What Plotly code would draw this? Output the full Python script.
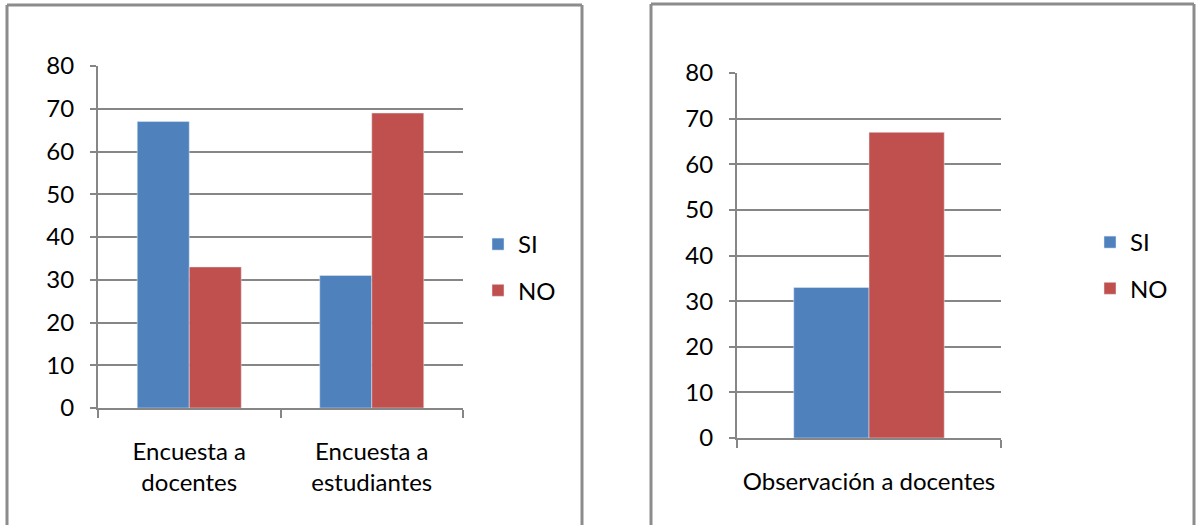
import plotly.graph_objects as go

W, H = 1197, 525

# left chart: encuestas
categorias_enc = ["Encuesta a<br>docentes", "Encuesta a<br>estudiantes"]
si_enc = [67, 31]
no_enc = [33, 69]

# right chart: observacion
categorias_obs = ["Observación a docentes"]
si_obs = [33]
no_obs = [67]

y_ticks = [0, 10, 20, 30, 40, 50, 60, 70, 80]

AZUL = "#4F81BD"
ROJO = "#C0504D"
GRIS = "#868686"
FONT = "Lato"


def px_x(p):
    return p / W


def px_y(p):
    return 1 - p / H


fig = go.Figure()

fig.add_trace(go.Bar(x=categorias_enc, y=si_enc, name="SI", marker_color=AZUL,
                     xaxis="x", yaxis="y", legend="legend", legendgroup="a"))
fig.add_trace(go.Bar(x=categorias_enc, y=no_enc, name="NO", marker_color=ROJO,
                     xaxis="x", yaxis="y", legend="legend", legendgroup="b"))
fig.add_trace(go.Bar(x=categorias_obs, y=si_obs, name="SI", marker_color=AZUL,
                     xaxis="x2", yaxis="y2", legend="legend2", legendgroup="c"))
fig.add_trace(go.Bar(x=categorias_obs, y=no_obs, name="NO", marker_color=ROJO,
                     xaxis="x2", yaxis="y2", legend="legend2", legendgroup="d"))

xcommon = dict(showgrid=False, showline=True, linecolor=GRIS, linewidth=2,
               ticks="outside", tickson="boundaries", ticklen=8, tickwidth=2,
               tickcolor=GRIS, ticklabelstandoff=21, fixedrange=True,
               automargin=False)
ycommon = dict(range=[0, 80], tickvals=y_ticks, showgrid=True, gridcolor=GRIS,
               gridwidth=2, showline=True, linecolor=GRIS, linewidth=2,
               ticks="outside", ticklen=6, tickwidth=2, tickcolor=GRIS,
               ticklabelstandoff=11, zeroline=False, fixedrange=True,
               automargin=False)

# chart frames as separate lines, so each edge is placed on its own
marcos = []
for x0, x1, y0 in [(7, 582, 5), (651, 1194, 4)]:
    for (a, b, c, d) in [(x0, y0, x1, y0), (x0, y0, x0, 545), (x1, y0, x1, 545)]:
        marcos.append(dict(type="line", xref="paper", yref="paper",
                           x0=px_x(a), y0=px_y(b), x1=px_x(c), y1=px_y(d),
                           line=dict(color="#8C8C8C", width=3)))

fig.update_layout(
    width=W, height=H, autosize=False,
    margin=dict(l=0, r=0, t=0, b=0, pad=0),
    paper_bgcolor="white", plot_bgcolor="white",
    font=dict(family=FONT, size=24, color="black"),
    barmode="group", bargap=0.43, bargroupgap=0,
    xaxis=dict(domain=[px_x(98), px_x(463)], anchor="y", **xcommon),
    yaxis=dict(domain=[px_y(408), px_y(66)], anchor="x", **ycommon),
    xaxis2=dict(domain=[px_x(737), px_x(1001)], anchor="y2", **xcommon),
    yaxis2=dict(domain=[px_y(438), px_y(73)], anchor="x2", **ycommon),
    legend=dict(x=px_x(478), y=px_y(222), xanchor="left", yanchor="top",
                tracegroupgap=12, bgcolor="rgba(0,0,0,0)"),
    legend2=dict(x=px_x(1090), y=px_y(220), xanchor="left", yanchor="top",
                 tracegroupgap=12, bgcolor="rgba(0,0,0,0)"),
    shapes=marcos,
)

# the page's default body margin would shift the whole picture by 8px
fig.write_html("out.html", config={"displayModeBar": False},
               post_script="document.body.style.margin='0';"
                           "document.body.style.overflow='hidden';")
